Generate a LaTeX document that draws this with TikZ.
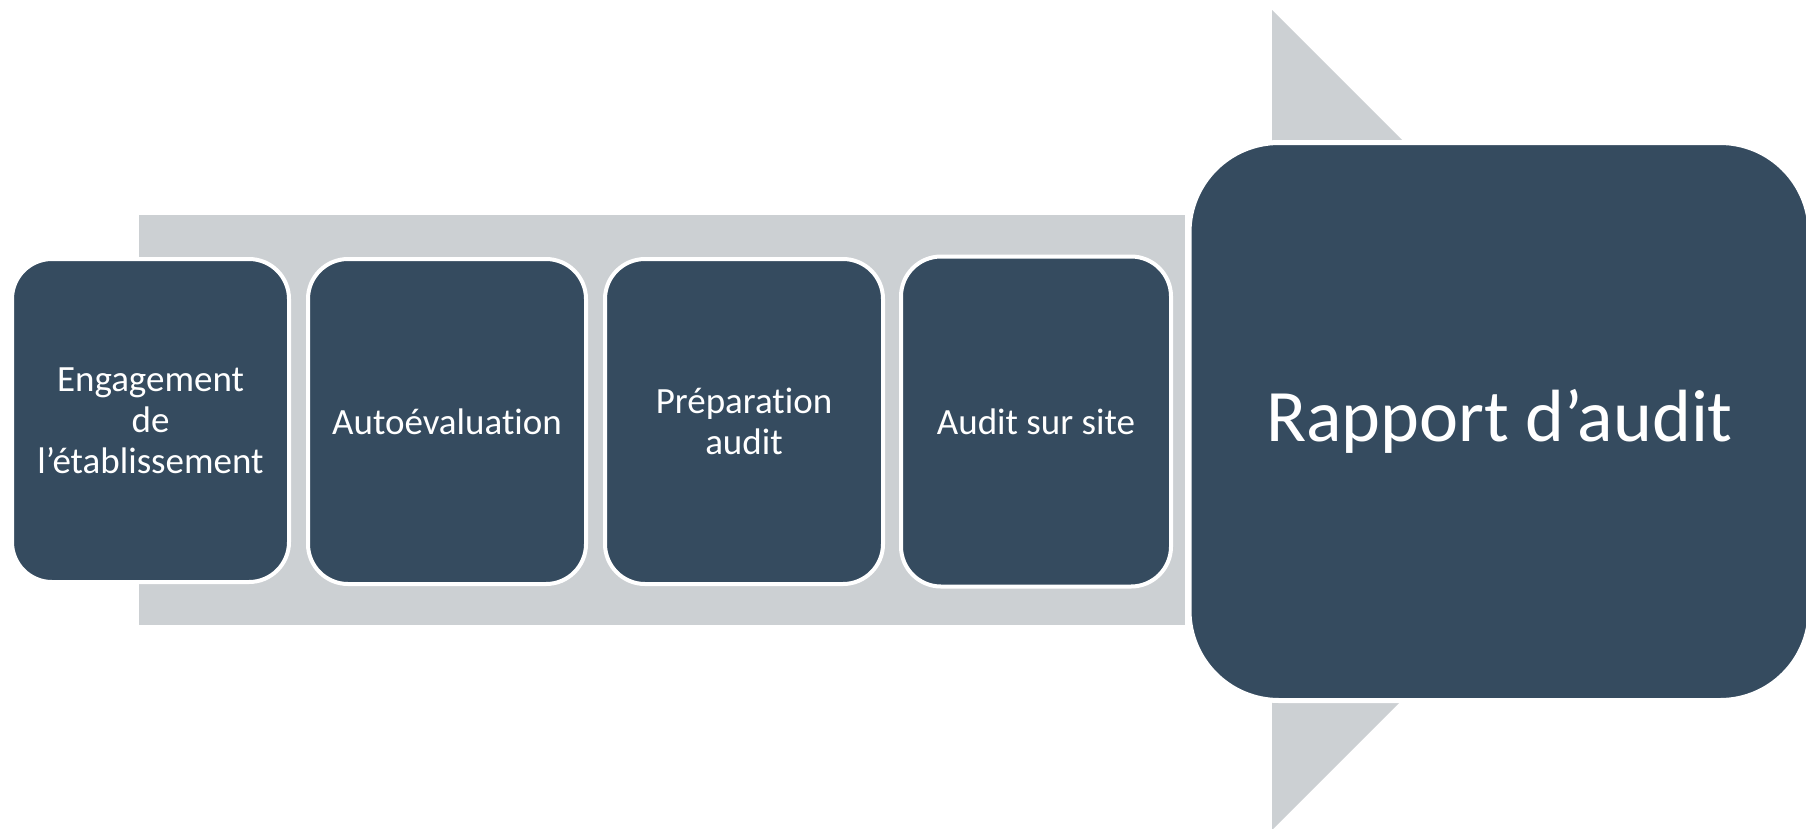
\documentclass[tikz,border=0pt]{standalone}
\usepackage{fontspec}
\setmainfont[Ligatures=CommonOff]{Carlito}
\definecolor{slate}{HTML}{354B5F}
\definecolor{band}{HTML}{CCD0D3}
\tikzset{
  stepbox/.style={draw=white, line width=4pt, fill=slate, rounded corners=40pt,
    inner sep=0pt, align=center, text=white,
    font=\fontsize{37}{41}\selectfont},
  bigbox/.style={draw=white, line width=5pt, fill=slate, rounded corners=90pt,
    inner sep=0pt, align=center, text=white,
    font=\fontsize{74}{84}\selectfont},
}
\begin{document}
\begin{tikzpicture}[x=1pt,y=1pt]
\clip (0,0) rectangle (1806,-828);
\fill[white] (0,0) rectangle (1806,-828);
% arrow body and head
\fill[band] (139,-215) rectangle (1185,-625);
\fill[band] (1272,-10) -- (1682,-420) -- (1272,-830) -- cycle;
% steps
\node[stepbox, minimum width=277pt, minimum height=323pt] (b1) at (150.5,-420.5)
  {Engagement\\de\\l’établissement};
\node[stepbox, minimum width=278pt, minimum height=325pt] (b2) at (447,-421.5)
  {Autoévaluation};
\node[stepbox, minimum width=278pt, minimum height=325pt] (b3) at (744,-421.5)
  {Préparation\\audit};
\node[stepbox, minimum width=270pt, minimum height=330pt] (b4) at (1036,-421.5)
  {Audit sur site};
\node[bigbox, minimum width=621pt, minimum height=558pt] (b5) at (1499.5,-421.5)
  {Rapport d’audit};
\end{tikzpicture}
\end{document}
